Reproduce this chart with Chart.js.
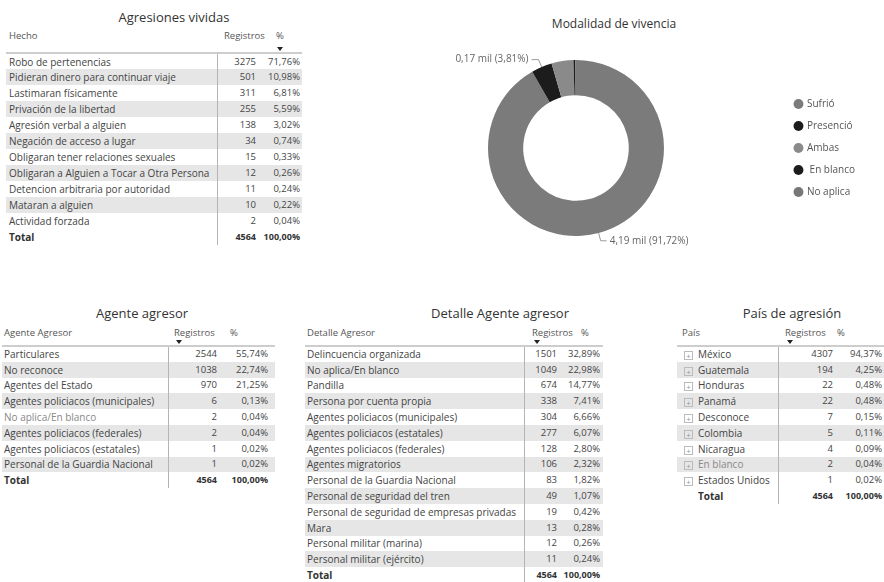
<!DOCTYPE html>
<html>
<head>
<meta charset="utf-8">
<script src="https://cdn.jsdelivr.net/npm/chart.js@4.4.0/dist/chart.umd.min.js"></script>
<style>
	body { margin: 0; width: 884px; height: 582px; background: #fff; position: relative; overflow: hidden; font-family: "Open Sans", sans-serif; color: #444; }
	.title { position: absolute; font-size: 13px; color: #333; white-space: nowrap; transform: translate(-50%, -50%); }
	table { position: absolute; border-collapse: collapse; table-layout: fixed; font-size: 10px; }
	th { font-weight: normal; text-align: left; vertical-align: top; color: #555; padding: 3px 0 0 0; line-height: 12px; position: relative; border-bottom: 2px solid #cdcdcd; white-space: nowrap; overflow: visible; font-size: 9.5px; }
	td { padding: 0; white-space: nowrap; overflow: hidden; line-height: 12px; }
	td.num { text-align: right; font-size: 9.5px; }
	td.reg { border-left: 1px solid #b4b4b4; }
	tr.alt td { background: #e6e6e6; }
	tr.total td { font-weight: bold; color: #333; }
	tr.total td.num { font-size: 9px; }
	.arrow { position: absolute; width: 0; height: 0; border-left: 3px solid transparent; border-right: 3px solid transparent; border-top: 4px solid #222; }
	.plus { display: inline-block; width: 7px; height: 7px; border: 1px solid #bbb; color: #999; font-size: 8px; line-height: 7px; text-align: center; margin: 0 5px 0 0; vertical-align: -1px; }
	#donutWrap { position: absolute; left: 345px; top: 40px; width: 520px; height: 216px; }
</style>
</head>
<body>
<div class="title" style="left:174px; top:17px;">Agresiones vividas</div>
<div class="title" style="left:614px; top:23px; font-size:12px;">Modalidad de vivencia</div>
<div class="title" style="left:142px; top:313px;">Agente agresor</div>
<div class="title" style="left:500px; top:313px;">Detalle Agente agresor</div>
<div class="title" style="left:792px; top:313px;">País de agresión</div>

<table id="hechoTable"></table>
<table id="agenteTable"></table>
<table id="detalleTable"></table>
<table id="paisTable"></table>

<div id="donutWrap"><canvas id="donutChart" width="520" height="216"></canvas></div>

<script>
// Agresiones vividas
const hechos = ["Robo de pertenencias", "Pidieran dinero para continuar viaje", "Lastimaran físicamente", "Privación de la libertad", "Agresión verbal a alguien", "Negación de acceso a lugar", "Obligaran tener relaciones sexuales", "Obligaran a Alguien a Tocar a Otra Persona", "Detencion arbitraria por autoridad", "Mataran a alguien", "Actividad forzada"];
const hechosRegistros = [3275, 501, 311, 255, 138, 34, 15, 12, 11, 10, 2];
const hechosPct = [71.76, 10.98, 6.81, 5.59, 3.02, 0.74, 0.33, 0.26, 0.24, 0.22, 0.04];

// Agente agresor
const agentes = ["Particulares", "No reconoce", "Agentes del Estado", "Agentes policiacos (municipales)", "No aplica/En blanco", "Agentes policiacos (federales)", "Agentes policiacos (estatales)", "Personal de la Guardia Nacional"];
const agentesRegistros = [2544, 1038, 970, 6, 2, 2, 1, 1];
const agentesPct = [55.74, 22.74, 21.25, 0.13, 0.04, 0.04, 0.02, 0.02];

// Detalle Agente agresor
const detalles = ["Delincuencia organizada", " No aplica/En blanco", "Pandilla", "Persona por cuenta propia", "Agentes policiacos (municipales)", "Agentes policiacos (estatales)", "Agentes policiacos (federales)", "Agentes migratorios", "Personal de la Guardia Nacional", "Personal de seguridad del tren", "Personal de seguridad de empresas privadas", "Mara", "Personal militar (marina)", "Personal militar (ejército)"];
const detallesRegistros = [1501, 1049, 674, 338, 304, 277, 128, 106, 83, 49, 19, 13, 12, 11];
const detallesPct = [32.89, 22.98, 14.77, 7.41, 6.66, 6.07, 2.80, 2.32, 1.82, 1.07, 0.42, 0.28, 0.26, 0.24];

// País de agresión
const paises = ["México", "Guatemala", "Honduras", "Panamá", "Desconoce", "Colombia", "Nicaragua", "En blanco", "Estados Unidos"];
const paisesRegistros = [4307, 194, 22, 22, 7, 5, 4, 2, 1];
const paisesPct = [94.37, 4.25, 0.48, 0.48, 0.15, 0.11, 0.09, 0.04, 0.02];

const totalRegistros = 4564;
const totalPct = 100.00;
const lightRows = ["No aplica/En blanco", "En blanco"];

// Modalidad de vivencia
const modalidades = ["Sufrió", "Presenció", "Ambas", " En blanco", "No aplica"];
const modalidadValores = [4186, 174, 183, 16, 5];
const modalidadColores = ["#7b7b7b", "#1c1c1c", "#8a8a8a", "#1c1c1c", "#777777"];
const modalidadEtiquetadas = ["Sufrió", "Presenció"];

function fmtPct(v) {
	return v.toFixed(2).replace(".", ",") + "%";
}

// Function to generate tables
function generateTable(tableId, cfg, labels, regs, pcts) {
	const table = document.getElementById(tableId);
	table.style.left = cfg.left + "px";
	table.style.top = cfg.top + "px";
	table.style.width = cfg.widths.reduce((a, b) => a + b, 0) + "px";

	const colgroup = document.createElement("colgroup");
	cfg.widths.forEach((w) => {
		const col = document.createElement("col");
		col.style.width = w + "px";
		colgroup.appendChild(col);
	});
	table.appendChild(colgroup);

	const thead = document.createElement("thead");
	const htr = document.createElement("tr");
	cfg.headers.forEach((h, i) => {
		const th = document.createElement("th");
		th.style.height = cfg.headerHeight - 3 + "px";
		th.style.paddingLeft = cfg.headerPad[i] + "px";
		th.textContent = h;
		if (i === cfg.sortCol) {
			const a = document.createElement("div");
			a.className = "arrow";
			a.style.left = cfg.headerPad[i] + cfg.arrowDx + "px";
			a.style.top = cfg.headerHeight - 5 + "px";
			th.appendChild(a);
		}
		htr.appendChild(th);
	});
	thead.appendChild(htr);
	table.appendChild(thead);

	const tbody = document.createElement("tbody");
	const rows = labels.map((l, i) => [l, regs[i], pcts[i]]);
	rows.push(["Total", totalRegistros, totalPct]);
	rows.forEach((row, rowIndex) => {
		const tr = document.createElement("tr");
		if (rowIndex === rows.length - 1) tr.className = "total";
		else if (rowIndex % 2 === 1) tr.className = "alt";
		tr.style.height = cfg.rowHeight + "px";

		const td1 = document.createElement("td");
		td1.style.paddingLeft = cfg.labelPad + "px";
		if (cfg.expand && rowIndex < rows.length - 1) {
			const p = document.createElement("span");
			p.className = "plus";
			p.textContent = "+";
			td1.appendChild(p);
			td1.appendChild(document.createTextNode(row[0]));
		} else if (cfg.expand) {
			td1.style.paddingLeft = cfg.labelPad + 14 + "px";
			td1.textContent = row[0];
		} else {
			td1.textContent = row[0];
		}
		if (lightRows.includes(row[0])) td1.style.color = "#888";

		const td2 = document.createElement("td");
		td2.className = "num reg";
		td2.style.paddingRight = cfg.numPad[0] + "px";
		td2.textContent = row[1];

		const td3 = document.createElement("td");
		td3.className = "num";
		td3.style.paddingRight = cfg.numPad[1] + "px";
		td3.textContent = fmtPct(row[2]);

		tr.appendChild(td1);
		tr.appendChild(td2);
		tr.appendChild(td3);
		tbody.appendChild(tr);
	});
	table.appendChild(tbody);
}

generateTable("hechoTable", {
	left: 6, top: 27, widths: [211, 43, 42], headerHeight: 25, rowHeight: 16,
	headers: ["Hecho", "Registros", "%"], headerPad: [3, 7, 16], sortCol: 2, arrowDx: 1,
	labelPad: 3, numPad: [4, 2]
}, hechos, hechosRegistros, hechosPct);

generateTable("agenteTable", {
	left: 2, top: 324, widths: [166, 53, 54], headerHeight: 21, rowHeight: 15.8,
	headers: ["Agente Agresor", "Registros", "%"], headerPad: [2, 6, 9], sortCol: 1, arrowDx: 2,
	labelPad: 2, numPad: [4, 7]
}, agentes, agentesRegistros, agentesPct);

generateTable("detalleTable", {
	left: 305, top: 324, widths: [219, 36, 43], headerHeight: 21, rowHeight: 15.8,
	headers: ["Detalle Agresor", "Registros", "%"], headerPad: [2, 8, 21], sortCol: 1, arrowDx: 2,
	labelPad: 2, numPad: [3, 3]
}, detalles, detallesRegistros, detallesPct);

generateTable("paisTable", {
	left: 677, top: 324, widths: [101, 58, 48], headerHeight: 21, rowHeight: 15.8,
	headers: ["País", "Registros", "%"], headerPad: [5, 7, 1], sortCol: 1, arrowDx: 2,
	labelPad: 7, numPad: [3, 2], expand: true
}, paises, paisesRegistros, paisesPct);

// Plugin to draw the slice labels with leader lines
const sliceLabels = {
	id: "sliceLabels",
	afterDatasetsDraw(chart) {
		const ctx = chart.ctx;
		const meta = chart.getDatasetMeta(0);
		const data = chart.data.datasets[0].data;
		const total = data.reduce((a, b) => a + b, 0);
		meta.data.forEach((arc, i) => {
			if (!modalidadEtiquetadas.includes(chart.data.labels[i])) return;
			const p = arc.getProps(["x", "y", "startAngle", "endAngle", "outerRadius"], true);
			const mid = (p.startAngle + p.endAngle) / 2;
			const x0 = p.x + Math.cos(mid) * p.outerRadius;
			const y0 = p.y + Math.sin(mid) * p.outerRadius;
			const x1 = p.x + Math.cos(mid) * (p.outerRadius + 8);
			const y1 = p.y + Math.sin(mid) * (p.outerRadius + 8);
			const right = x1 >= p.x;
			const x2 = x1 + (right ? 6 : -7);
			ctx.save();
			ctx.strokeStyle = "#9a9a9a";
			ctx.lineWidth = 1;
			ctx.beginPath();
			ctx.moveTo(x0, y0);
			ctx.lineTo(x1, y1);
			ctx.lineTo(x2, y1);
			ctx.stroke();
			const text = (data[i] / 1000).toFixed(2).replace(".", ",") + " mil (" + fmtPct(data[i] / total * 100).replace("%", "") + "%)";
			ctx.font = "10px 'Open Sans', sans-serif";
			ctx.fillStyle = "#666";
			ctx.textBaseline = "middle";
			ctx.textAlign = right ? "left" : "right";
			ctx.fillText(text, x2 + (right ? 3 : -3), y1);
			ctx.restore();
		});
	}
};

new Chart(document.getElementById("donutChart"), {
	type: "doughnut",
	data: {
		labels: modalidades,
		datasets: [{
			data: modalidadValores,
			backgroundColor: modalidadColores,
			borderWidth: 0
		}]
	},
	options: {
		responsive: false,
		animation: false,
		cutout: "60%",
		layout: { padding: { top: 20, bottom: 20, left: 24, right: 0 } },
		plugins: {
			legend: {
				position: "right",
				labels: {
					usePointStyle: true,
					pointStyle: "circle",
					boxWidth: 7,
					boxHeight: 7,
					padding: 12,
					color: "#555",
					font: { family: "'Open Sans', sans-serif", size: 10 }
				}
			},
			tooltip: { enabled: false }
		}
	},
	plugins: [sliceLabels]
});
</script>
</body>
</html>
